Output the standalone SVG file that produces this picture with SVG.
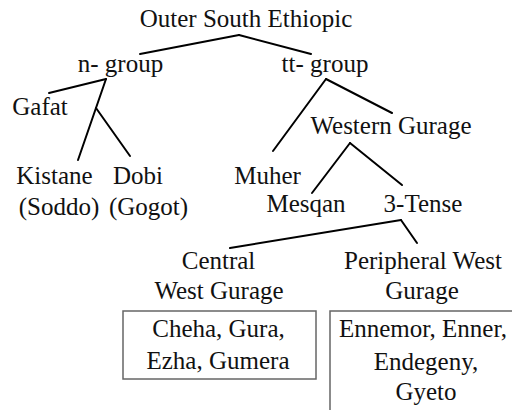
<svg xmlns="http://www.w3.org/2000/svg" width="512" height="410" viewBox="0 0 512 410">
<style>
text { font-family: "Liberation Serif", "Times New Roman", serif; font-size: 25px; fill: #111; text-anchor: middle; }
.edge { stroke: #000; stroke-width: 2; fill: none; stroke-linecap: round; }
.box { fill: none; stroke: #666; stroke-width: 1.5; }
</style>
<rect width="512" height="410" fill="#fff"/>
<g id="connectors">
<line class="edge" x1="239" y1="35" x2="140" y2="54"/>
<line class="edge" x1="239" y1="35" x2="311" y2="54"/>
<line class="edge" x1="106" y1="79" x2="49" y2="93"/>
<line class="edge" x1="106" y1="79" x2="78" y2="160"/>
<line class="edge" x1="96" y1="108" x2="130" y2="156"/>
<line class="edge" x1="326" y1="79" x2="273" y2="151"/>
<line class="edge" x1="326" y1="79" x2="392" y2="113"/>
<line class="edge" x1="350" y1="143" x2="312" y2="193"/>
<line class="edge" x1="350" y1="143" x2="402" y2="185"/>
<line class="edge" x1="401" y1="220" x2="230" y2="248"/>
<line class="edge" x1="401" y1="220" x2="417" y2="243"/>
</g>
<g id="outer-south-ethiopic"><text x="246" y="27">Outer South Ethiopic</text></g>
<g id="n-group"><text x="120.5" y="72">n- group</text></g>
<g id="tt-group"><text x="325" y="72">tt- group</text></g>
<g id="gafat"><text x="40" y="115">Gafat</text></g>
<g id="kistane"><text x="54.5" y="184">Kistane</text><text x="59" y="215">(Soddo)</text></g>
<g id="dobi"><text x="138" y="184">Dobi</text><text x="148.5" y="215">(Gogot)</text></g>
<g id="western-gurage"><text x="391" y="134">Western Gurage</text></g>
<g id="muher"><text x="267.5" y="184">Muher</text></g>
<g id="mesqan"><text x="306" y="212">Mesqan</text></g>
<g id="three-tense"><text x="423" y="212">3-Tense</text></g>
<g id="central-west-gurage">
<text x="218.5" y="269">Central</text>
<text x="219" y="299">West Gurage</text>
<rect class="box" x="123" y="311" width="193" height="68"/>
<text x="218.5" y="337">Cheha, Gura,</text>
<text x="218" y="369">Ezha, Gumera</text>
</g>
<g id="peripheral-west-gurage">
<text x="423" y="269">Peripheral West</text>
<text x="422" y="299">Gurage</text>
<rect class="box" x="330" y="311" width="186" height="102"/>
<text x="423" y="337">Ennemor, Enner,</text>
<text x="426" y="370">Endegeny,</text>
<text x="426" y="400">Gyeto</text>
</g>
</svg>
